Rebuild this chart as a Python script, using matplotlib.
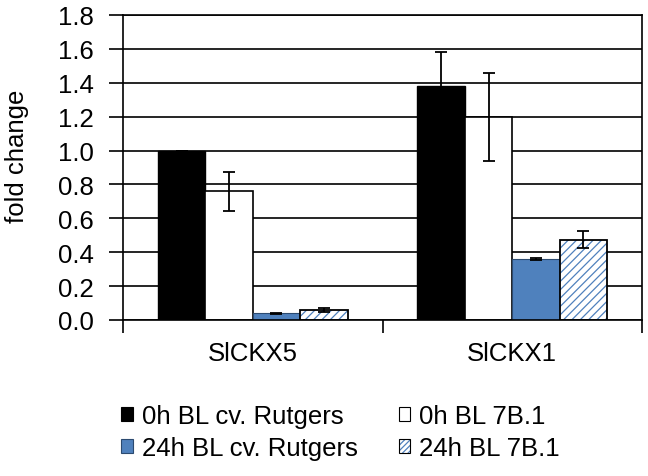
import numpy as np
import matplotlib; matplotlib.use("Agg")
import matplotlib.pyplot as plt
from matplotlib.patches import Patch
from matplotlib.ticker import FormatStrFormatter, FixedLocator

plt.rcParams["font.family"] = ["Liberation Sans", "DejaVu Sans"]
FS = 18.5

genes = ["SlCKX5", "SlCKX1"]
series = ["0h BL cv. Rutgers", "0h BL 7B.1", "24h BL cv. Rutgers", "24h BL 7B.1"]
vals = {
    "0h BL cv. Rutgers": [1.00, 1.38],
    "0h BL 7B.1": [0.76, 1.20],
    "24h BL cv. Rutgers": [0.04, 0.36],
    "24h BL 7B.1": [0.06, 0.475],
}
errs = {
    "0h BL cv. Rutgers": [0.0, 0.20],
    "0h BL 7B.1": [0.115, 0.26],
    "24h BL cv. Rutgers": [0.004, 0.003],
    "24h BL 7B.1": [0.012, 0.053],
}
blue = "#4F81BD"

fig = plt.figure(figsize=(6.48, 4.77), dpi=100)
ax = fig.add_axes([123/648, 1-321/477, (642-123)/648, (321-16)/477])

x = np.arange(len(genes)) + 0.5
w = 0.183
offs = [-1.5, -0.5, 0.5, 1.5]
ekw = dict(ecolor="black", elinewidth=1.3, capsize=4.5, capthick=1.3)

ax.bar(x + offs[0]*w, vals[series[0]], w, color="black", edgecolor="black", lw=1,
       yerr=errs[series[0]], error_kw=ekw, zorder=2)
ax.bar(x + offs[1]*w, vals[series[1]], w, color="white", edgecolor="black", lw=1.2,
       yerr=errs[series[1]], error_kw=ekw, zorder=2)
ax.bar(x + offs[2]*w, vals[series[2]], w, color=blue, edgecolor="#2b4a70", lw=0.8,
       yerr=errs[series[2]], error_kw=ekw, zorder=2)
# hatched bars: blue hatch first, then black outline on top
plt.rcParams["hatch.linewidth"] = 0.9
ax.bar(x + offs[3]*w, vals[series[3]], w, color="white", edgecolor=blue, hatch="////", lw=0,
       zorder=2)
ax.bar(x + offs[3]*w, vals[series[3]], w, color="none", edgecolor="black", lw=1.3,
       yerr=errs[series[3]], error_kw=ekw, zorder=3)

ax.set_xlim(0, 2)
ax.set_ylim(0, 1.8)
ax.set_yticks(np.arange(0, 1.81, 0.2))
ax.yaxis.set_major_formatter(FormatStrFormatter("%.1f"))
ax.yaxis.grid(True, color="black", lw=1.2)
ax.set_axisbelow(True)
ax.tick_params(axis="y", length=10, width=1.2, direction="out", pad=11, labelsize=FS)
ax.set_xticks(x)
ax.set_xticklabels(genes)
ax.tick_params(axis="x", which="major", length=0, pad=15, labelsize=FS)
ax.xaxis.set_minor_locator(FixedLocator([0, 1, 2]))
ax.tick_params(axis="x", which="minor", length=9, width=1.2, direction="out")
for s in ["left", "right", "bottom", "top"]:
    ax.spines[s].set_linewidth(1.2)
    ax.spines[s].set_color("black")

fig.text(17/648, 1-156/477, "fold change", rotation=90, ha="center", va="center", fontsize=FS)

hatched = (Patch(facecolor="white", edgecolor=blue, lw=0, hatch="//////"),
           Patch(facecolor="none", edgecolor="black", lw=0.8))
handles = [
    Patch(facecolor="black", edgecolor="black", lw=0.8),
    Patch(facecolor=blue, edgecolor="#2b4a70", lw=0.8),
    Patch(facecolor="white", edgecolor="black", lw=0.8),
    hatched,
]
labels = [series[0], series[2], series[1], series[3]]
fig.legend(handles, labels, ncol=2, loc="upper left", bbox_to_anchor=(121/648, 1-405/477),
           frameon=False, fontsize=FS, handlelength=0.45, handleheight=0.45,
           handletextpad=0.35, columnspacing=1.6, labelspacing=0.32, borderpad=0,
           borderaxespad=0)

fig.savefig("out.png", dpi=100)
